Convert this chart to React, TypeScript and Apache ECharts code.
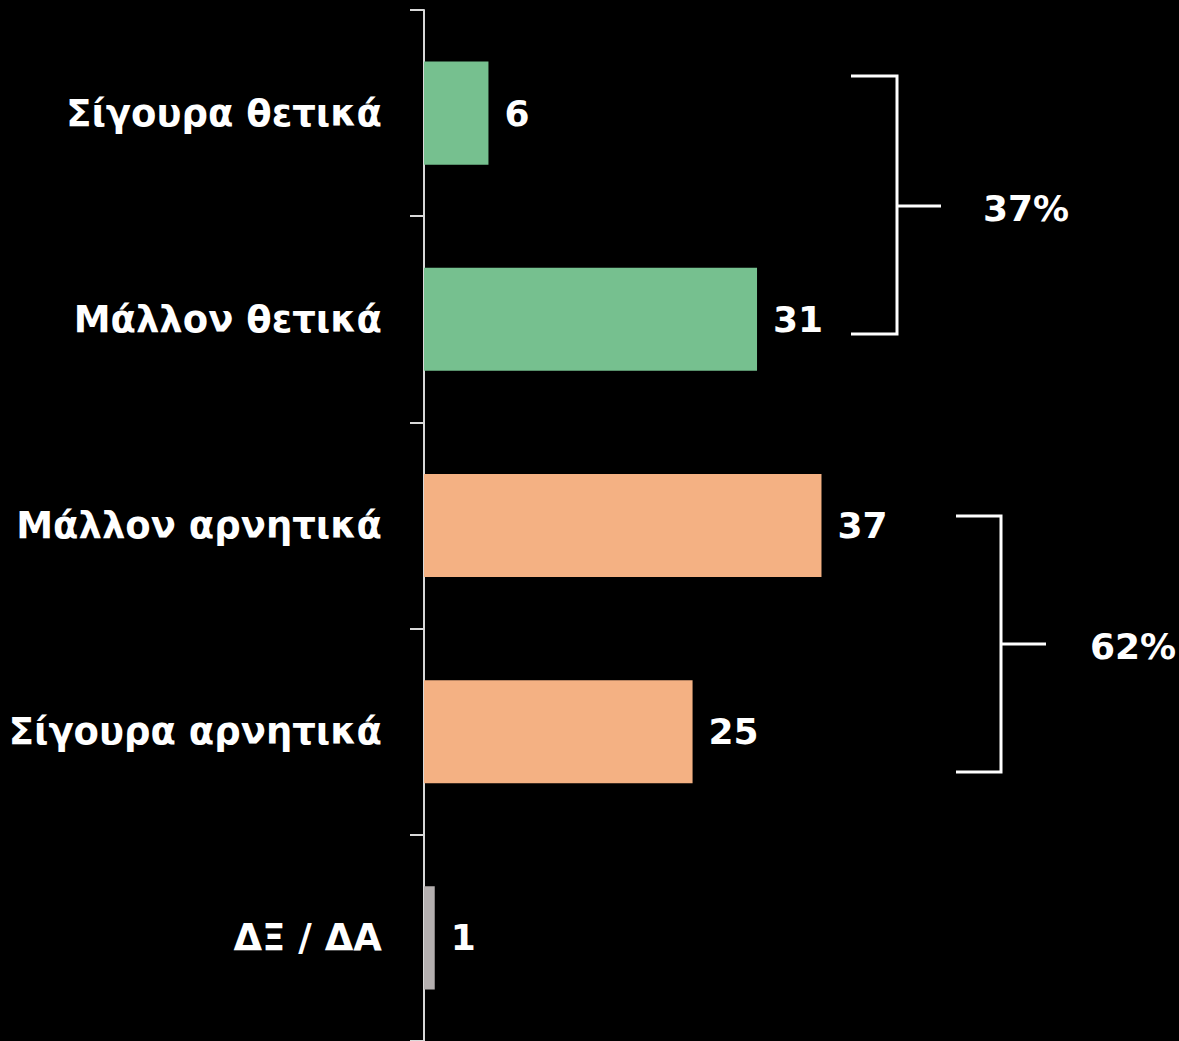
import React, { useEffect, useRef } from "react";
import * as echarts from "echarts";

const categories = ["Σίγουρα θετικά", "Μάλλον θετικά", "Μάλλον αρνητικά", "Σίγουρα αρνητικά", "ΔΞ / ΔΑ"];
const values = [6, 31, 37, 25, 1];
const barColors = ["#76C08F", "#76C08F", "#F4B183", "#F4B183", "#B4AFAF"];
const groupLabels = ["37%", "62%"];

const FONT = "'DejaVu Sans', sans-serif";

export default function App() {
  const ref = useRef<HTMLDivElement>(null);
  useEffect(() => {
    if (!ref.current) return;
    const chart = echarts.init(ref.current, null, { renderer: "svg" });
    const lineStyle = { stroke: "#FFFFFF", lineWidth: 3, fill: "none" };
    const bracket = (x0: number, x1: number, y0: number, y1: number, xm: number, ym: number, label: string, lx: number) => [
      { type: "polyline", shape: { points: [[x0, y0], [x1, y0], [x1, y1], [x0, y1]] }, style: lineStyle },
      { type: "line", shape: { x1: x1, y1: ym, x2: xm, y2: ym }, style: lineStyle },
      {
        type: "text",
        x: lx,
        y: ym + 2,
        style: {
          text: label,
          fill: "#FFFFFF",
          font: `bold 36px ${FONT}`,
          textAlign: "left",
          textVerticalAlign: "middle",
        },
      },
    ];
    chart.setOption({
      animation: false,
      backgroundColor: "#000000",
      grid: { left: 424, top: 10, width: 752, height: 1034, containLabel: false },
      xAxis: {
        type: "value",
        min: 0,
        max: 70,
        show: false,
      },
      yAxis: {
        type: "category",
        data: categories,
        inverse: true,
        axisLine: { show: true, lineStyle: { color: "#D9D9D9", width: 2 } },
        axisTick: { show: true, length: 14, lineStyle: { color: "#D9D9D9", width: 2 } },
        axisLabel: {
          color: "#FFFFFF",
          fontFamily: FONT,
          fontWeight: "bold",
          fontSize: 37,
          margin: 42,
        },
        splitLine: { show: false },
      },
      series: [
        {
          type: "bar",
          barWidth: "50%",
          data: values.map((v, i) => ({ value: v, itemStyle: { color: barColors[i] } })),
          label: {
            show: true,
            position: "right",
            distance: 16,
            color: "#FFFFFF",
            fontFamily: FONT,
            fontWeight: "bold",
            fontSize: 36,
          },
        },
      ],
      graphic: [
        ...bracket(851, 897, 76, 334, 941, 206, groupLabels[0], 983),
        ...bracket(956, 1001, 516, 772, 1046, 644, groupLabels[1], 1090),
      ],
    });
    return () => chart.dispose();
  }, []);
  return (
    <div
      ref={ref}
      style={{ position: "absolute", left: 0, top: 0, width: 1179, height: 1041, background: "#000" }}
    />
  );
}
